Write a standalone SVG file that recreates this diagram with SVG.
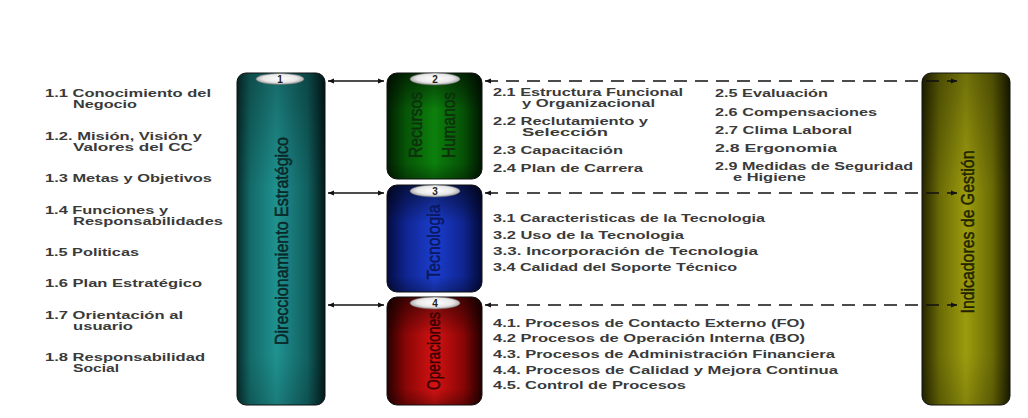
<svg xmlns="http://www.w3.org/2000/svg" width="1028" height="418" viewBox="0 0 1028 418">
<defs>
<linearGradient id="gTeal" x1="0" y1="0" x2="1" y2="0">
<stop offset="0" stop-color="#072c2c"/><stop offset="0.15" stop-color="#136a68"/><stop offset="0.45" stop-color="#1f9290"/><stop offset="0.8" stop-color="#116060"/><stop offset="1" stop-color="#031a1a"/>
</linearGradient>
<linearGradient id="gGreen" x1="0" y1="0" x2="1" y2="0">
<stop offset="0" stop-color="#021c02"/><stop offset="0.2" stop-color="#065506"/><stop offset="0.5" stop-color="#0c800c"/><stop offset="0.8" stop-color="#065206"/><stop offset="1" stop-color="#011601"/>
</linearGradient>
<linearGradient id="gBlue" x1="0" y1="0" x2="1" y2="0">
<stop offset="0" stop-color="#040c42"/><stop offset="0.2" stop-color="#0f2590"/><stop offset="0.5" stop-color="#1c3ed0"/><stop offset="0.8" stop-color="#0f2590"/><stop offset="1" stop-color="#030a3a"/>
</linearGradient>
<linearGradient id="gRed" x1="0" y1="0" x2="1" y2="0">
<stop offset="0" stop-color="#280000"/><stop offset="0.2" stop-color="#8a0606"/><stop offset="0.5" stop-color="#d41212"/><stop offset="0.8" stop-color="#8a0606"/><stop offset="1" stop-color="#220000"/>
</linearGradient>
<linearGradient id="gOlive" x1="0" y1="0" x2="1" y2="0">
<stop offset="0" stop-color="#242400"/><stop offset="0.2" stop-color="#6a6a06"/><stop offset="0.5" stop-color="#9c9c0e"/><stop offset="0.8" stop-color="#6a6a06"/><stop offset="1" stop-color="#1c1c00"/>
</linearGradient>
<linearGradient id="gTop" x1="0" y1="0" x2="0" y2="1">
<stop offset="0" stop-color="#000" stop-opacity="0.55"/><stop offset="0.35" stop-color="#000" stop-opacity="0"/><stop offset="0.85" stop-color="#000" stop-opacity="0"/><stop offset="1" stop-color="#000" stop-opacity="0.3"/>
</linearGradient>
<radialGradient id="gOval" cx="0.5" cy="0.45" r="0.6">
<stop offset="0" stop-color="#ffffff"/><stop offset="0.6" stop-color="#e8e8e8"/><stop offset="1" stop-color="#8a8a8a"/>
</radialGradient>
<marker id="ah" viewBox="0 0 10 10" refX="10" refY="5" markerWidth="6" markerHeight="6" orient="auto-start-reverse" markerUnits="userSpaceOnUse">
<path d="M0,1 L10,5 L0,9 z" fill="#111"/>
</marker>
<style>
.item{font-family:"Liberation Sans",Arial,sans-serif;font-weight:bold;font-size:11px;fill:#3a3a3a}
.title{font-family:"Liberation Sans",Arial,sans-serif;font-size:19px;text-anchor:middle;stroke-width:0.5}
.num{font-family:"Liberation Sans",Arial,sans-serif;font-weight:bold;font-size:10px;fill:#222;text-anchor:middle}
.oval{fill:url(#gOval);stroke:#777;stroke-width:0.5}
.solid{stroke:#111;stroke-width:1.5;fill:none;marker-start:url(#ah);marker-end:url(#ah)}
.dash{stroke:#111;stroke-width:1.6;fill:none;stroke-dasharray:13 8;marker-start:url(#ah);marker-end:url(#ah)}
.edge{fill:none;stroke:#111;stroke-width:1}
</style>
</defs>
<rect width="1028" height="418" fill="#ffffff"/>

<g id="node-1">
<rect x="237" y="73" width="88" height="332" rx="9" fill="url(#gTeal)"/>
<rect x="237" y="73" width="88" height="332" rx="9" fill="url(#gTop)" opacity="0.5"/>
<rect x="237" y="73" width="88" height="332" rx="9" class="edge"/>
<ellipse cx="280" cy="79" rx="24" ry="5.5" class="oval"/>
<text class="num" x="280" y="82.5">1</text>
<text class="title" transform="translate(288,241) rotate(-90)" fill="#0a2828" stroke="#0a2828" textLength="208" lengthAdjust="spacingAndGlyphs">Direccionamiento Estratégico</text>
<text class="item" x="45" y="97" textLength="166" lengthAdjust="spacingAndGlyphs">1.1 Conocimiento del</text>
<text class="item" x="73" y="108" textLength="64" lengthAdjust="spacingAndGlyphs">Negocio</text>
<text class="item" x="45" y="140" textLength="157" lengthAdjust="spacingAndGlyphs">1.2. Misión, Visión y</text>
<text class="item" x="73" y="151" textLength="120" lengthAdjust="spacingAndGlyphs">Valores del CC</text>
<text class="item" x="45" y="182" textLength="167" lengthAdjust="spacingAndGlyphs">1.3 Metas y Objetivos</text>
<text class="item" x="45" y="214" textLength="123" lengthAdjust="spacingAndGlyphs">1.4 Funciones y</text>
<text class="item" x="73" y="225" textLength="150" lengthAdjust="spacingAndGlyphs">Responsabilidades</text>
<text class="item" x="45" y="256" textLength="94" lengthAdjust="spacingAndGlyphs">1.5 Politicas</text>
<text class="item" x="45" y="287" textLength="157" lengthAdjust="spacingAndGlyphs">1.6 Plan Estratégico</text>
<text class="item" x="45" y="319" textLength="138" lengthAdjust="spacingAndGlyphs">1.7 Orientación al</text>
<text class="item" x="73" y="330" textLength="60" lengthAdjust="spacingAndGlyphs">usuario</text>
<text class="item" x="45" y="361" textLength="160" lengthAdjust="spacingAndGlyphs">1.8 Responsabilidad</text>
<text class="item" x="73" y="372" textLength="46" lengthAdjust="spacingAndGlyphs">Social</text>
</g>

<g id="node-2">
<rect x="387" y="73" width="95" height="106" rx="10" fill="url(#gGreen)"/>
<rect x="387" y="73" width="95" height="106" rx="10" fill="url(#gTop)"/>
<rect x="387" y="73" width="95" height="106" rx="10" class="edge"/>
<ellipse cx="435" cy="79" rx="25" ry="6" class="oval"/>
<text class="num" x="435" y="82.5">2</text>
<text class="title" transform="translate(422,125) rotate(-90)" fill="#0d300d" stroke="#0d300d" textLength="66" lengthAdjust="spacingAndGlyphs">Recursos</text>
<text class="title" transform="translate(455,125) rotate(-90)" fill="#0d300d" stroke="#0d300d" textLength="66" lengthAdjust="spacingAndGlyphs">Humanos</text>
<text class="item" x="493" y="96" textLength="190" lengthAdjust="spacingAndGlyphs">2.1 Estructura Funcional</text>
<text class="item" x="522" y="107" textLength="133" lengthAdjust="spacingAndGlyphs">y Organizacional</text>
<text class="item" x="493" y="125" textLength="155" lengthAdjust="spacingAndGlyphs">2.2 Reclutamiento y</text>
<text class="item" x="522" y="136" textLength="86" lengthAdjust="spacingAndGlyphs">Selección</text>
<text class="item" x="493" y="154" textLength="130" lengthAdjust="spacingAndGlyphs">2.3 Capacitación</text>
<text class="item" x="493" y="172" textLength="150" lengthAdjust="spacingAndGlyphs">2.4 Plan de Carrera</text>
<text class="item" x="715" y="97" textLength="113" lengthAdjust="spacingAndGlyphs">2.5 Evaluación</text>
<text class="item" x="715" y="116" textLength="162" lengthAdjust="spacingAndGlyphs">2.6 Compensaciones</text>
<text class="item" x="715" y="134" textLength="137" lengthAdjust="spacingAndGlyphs">2.7 Clima Laboral</text>
<text class="item" x="715" y="152" textLength="122" lengthAdjust="spacingAndGlyphs">2.8 Ergonomia</text>
<text class="item" x="715" y="170" textLength="198" lengthAdjust="spacingAndGlyphs">2.9 Medidas de Seguridad</text>
<text class="item" x="733" y="181" textLength="73" lengthAdjust="spacingAndGlyphs">e Higiene</text>
</g>

<g id="node-3">
<rect x="387" y="185" width="95" height="107" rx="10" fill="url(#gBlue)"/>
<rect x="387" y="185" width="95" height="107" rx="10" fill="url(#gTop)"/>
<rect x="387" y="185" width="95" height="107" rx="10" class="edge"/>
<ellipse cx="435" cy="191" rx="25" ry="6" class="oval"/>
<text class="num" x="435" y="194.5">3</text>
<text class="title" transform="translate(440,242) rotate(-90)" fill="#0a1860" stroke="#0a1860" textLength="75" lengthAdjust="spacingAndGlyphs">Tecnologia</text>
<text class="item" x="493" y="222" textLength="272" lengthAdjust="spacingAndGlyphs">3.1 Caracteristicas de la Tecnologia</text>
<text class="item" x="493" y="239" textLength="191" lengthAdjust="spacingAndGlyphs">3.2 Uso de la Tecnologia</text>
<text class="item" x="493" y="255" textLength="265" lengthAdjust="spacingAndGlyphs">3.3. Incorporación de Tecnologia</text>
<text class="item" x="493" y="271" textLength="244" lengthAdjust="spacingAndGlyphs">3.4 Calidad del Soporte Técnico</text>
</g>

<g id="node-4">
<rect x="387" y="297" width="95" height="108" rx="10" fill="url(#gRed)"/>
<rect x="387" y="297" width="95" height="108" rx="10" fill="url(#gTop)"/>
<rect x="387" y="297" width="95" height="108" rx="10" class="edge"/>
<ellipse cx="435" cy="303" rx="25" ry="6" class="oval"/>
<text class="num" x="435" y="306.5">4</text>
<text class="title" transform="translate(440,351) rotate(-90)" fill="#3a0000" stroke="#3a0000" textLength="78" lengthAdjust="spacingAndGlyphs">Operaciones</text>
<text class="item" x="493" y="327" textLength="312" lengthAdjust="spacingAndGlyphs">4.1. Procesos de Contacto Externo (FO)</text>
<text class="item" x="493" y="342" textLength="312" lengthAdjust="spacingAndGlyphs">4.2 Procesos de Operación Interna (BO)</text>
<text class="item" x="493" y="358" textLength="342" lengthAdjust="spacingAndGlyphs">4.3. Procesos de Administración Financiera</text>
<text class="item" x="493" y="374" textLength="345" lengthAdjust="spacingAndGlyphs">4.4. Procesos de Calidad y Mejora Continua</text>
<text class="item" x="493" y="389" textLength="193" lengthAdjust="spacingAndGlyphs">4.5. Control de Procesos</text>
</g>

<g id="node-5">
<rect x="922" y="73" width="88" height="332" rx="9" fill="url(#gOlive)"/>
<rect x="922" y="73" width="88" height="332" rx="9" fill="url(#gTop)" opacity="0.5"/>
<rect x="922" y="73" width="88" height="332" rx="9" class="edge"/>
<text class="title" transform="translate(974,232) rotate(-90)" fill="#222200" stroke="#222200" textLength="163" lengthAdjust="spacingAndGlyphs">Indicadores de Gestión</text>
</g>

<g id="connectors">
<line class="solid" x1="328" y1="81" x2="384" y2="81"/>
<line class="solid" x1="328" y1="193" x2="384" y2="193"/>
<line class="solid" x1="328" y1="305" x2="384" y2="305"/>
<line class="dash" x1="485" y1="81" x2="957" y2="81"/>
<line class="dash" x1="485" y1="193" x2="957" y2="193"/>
<line class="dash" x1="485" y1="305" x2="957" y2="305"/>
</g>
</svg>
